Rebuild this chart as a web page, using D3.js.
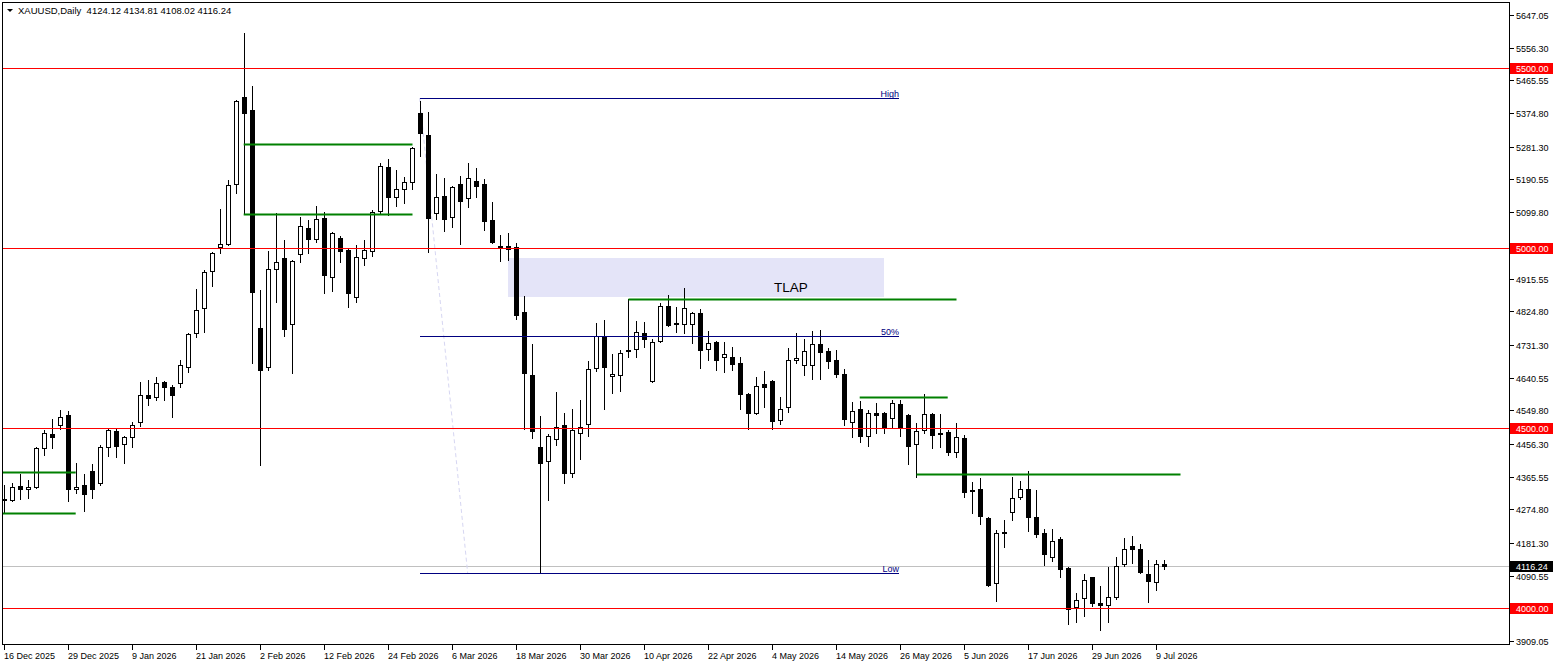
<!DOCTYPE html>
<html lang="en">
<head>
<meta charset="utf-8">
<title>XAUUSD Daily</title>
<script src="https://cdnjs.cloudflare.com/ajax/libs/d3/7.8.5/d3.min.js"></script>
<style>
  body { margin: 0; background: #fff; }
  svg { font-family: "Liberation Sans", Arial, sans-serif; }
  .axis text { font-size: 9px; fill: #000; }
</style>
</head>
<body>
<script>
// daily bars, 16 Dec 2025 .. 10 Jul 2026 (index = bar number)
var opens = [
  4300.0, 4300.0, 4338.9, 4330.6, 4336.1, 4444.4, 4483.3, 4508.3, 4536.1, 4330.6,
  4341.7, 4380.6, 4347.2, 4447.2, 4491.7, 4455.6, 4475.0, 4516.7, 4591.7, 4586.1,
  4627.8, 4613.9, 4625.0, 4669.4, 4763.9, 4833.3, 4936.1, 5002.8, 5011.1, 5177.8,
  5419.4, 5383.3, 4777.8, 4669.4, 4941.7, 4972.2, 4788.9, 4983.3, 5055.6, 5025.0,
  5083.3, 4919.4, 5027.8, 4994.4, 4863.9, 4972.2, 4991.7, 5102.8, 5225.0, 5141.7,
  5163.9, 5183.3, 5375.0, 5313.9, 5097.2, 5144.4, 5086.1, 5177.8, 5138.9, 5186.1,
  5177.8, 5077.8, 5005.6, 5005.6, 5002.8, 4822.2, 4647.2, 4447.2, 4408.3, 4469.4,
  4508.3, 4375.0, 4486.1, 4511.1, 4666.7, 4755.6, 4644.4, 4647.2, 4716.7, 4719.4,
  4763.9, 4630.6, 4741.7, 4838.9, 4791.7, 4788.9, 4788.9, 4819.4, 4719.4, 4738.9,
  4697.2, 4697.2, 4680.6, 4594.4, 4541.7, 4622.2, 4630.6, 4522.2, 4558.3, 4688.9,
  4675.0, 4675.0, 4733.3, 4713.9, 4688.9, 4650.0, 4516.7, 4552.8, 4477.8, 4541.7,
  4541.7, 4527.8, 4566.7, 4536.1, 4455.6, 4494.4, 4538.9, 4486.1, 4488.9, 4433.3,
  4472.2, 4327.8, 4330.6, 4250.0, 4069.4, 4208.3, 4266.7, 4308.3, 4330.6, 4252.8,
  4208.3, 4141.7, 4191.7, 4111.1, 4002.8, 4027.8, 4086.1, 4013.9, 4008.3, 4030.6,
  4122.2, 4172.2, 4163.9, 4094.4, 4072.2, 4124.12
];
var highs = [
  4341.7, 4347.2, 4372.2, 4355.6, 4447.2, 4494.4, 4525.0, 4550.0, 4547.2, 4402.8,
  4372.2, 4400.0, 4452.8, 4497.2, 4500.0, 4477.8, 4516.7, 4627.8, 4633.3, 4641.7,
  4630.6, 4619.4, 4688.9, 4763.9, 4886.1, 4938.9, 4988.9, 5108.3, 5188.9, 5411.1,
  5597.2, 5450.0, 4883.3, 4991.7, 5097.2, 5022.2, 4966.7, 5086.1, 5077.8, 5116.7,
  5100.0, 5044.4, 5033.3, 5000.0, 5008.3, 5022.2, 5105.6, 5236.1, 5247.2, 5216.7,
  5197.2, 5280.6, 5408.3, 5377.8, 5205.6, 5194.4, 5172.2, 5200.0, 5236.1, 5222.2,
  5191.7, 5127.8, 5036.1, 5041.7, 5013.9, 4866.7, 4733.3, 4533.3, 4483.3, 4600.0,
  4541.7, 4552.8, 4577.8, 4686.1, 4791.7, 4800.0, 4705.6, 4716.7, 4858.3, 4797.2,
  4794.4, 4747.2, 4847.2, 4869.4, 4836.1, 4888.9, 4822.2, 4830.6, 4769.4, 4741.7,
  4738.9, 4725.0, 4697.2, 4597.2, 4641.7, 4658.3, 4633.3, 4586.1, 4722.2, 4763.9,
  4747.2, 4769.4, 4772.2, 4722.2, 4716.7, 4663.9, 4572.2, 4575.0, 4550.0, 4569.4,
  4544.4, 4577.8, 4577.8, 4538.9, 4513.9, 4594.4, 4541.7, 4538.9, 4494.4, 4513.9,
  4480.6, 4350.0, 4361.1, 4252.8, 4216.7, 4244.4, 4363.9, 4352.8, 4380.6, 4327.8,
  4219.4, 4219.4, 4197.2, 4113.9, 4041.7, 4094.4, 4088.0, 4061.1, 4113.9, 4141.7,
  4194.4, 4200.0, 4177.8, 4133.3, 4133.3, 4134.81
];
var lows = [
  4266.7, 4298.0, 4302.8, 4305.6, 4333.0, 4425.0, 4444.4, 4497.2, 4297.2, 4319.4,
  4269.4, 4305.6, 4341.7, 4422.2, 4419.4, 4402.8, 4447.2, 4505.6, 4563.9, 4577.8,
  4577.8, 4530.6, 4613.9, 4655.6, 4752.8, 4766.7, 4894.4, 4986.1, 5008.0, 5152.8,
  5097.2, 4680.6, 4397.2, 4661.1, 4850.0, 4755.6, 4652.8, 4961.1, 4986.1, 5016.7,
  4875.0, 4880.6, 4961.1, 4836.1, 4850.0, 4952.8, 4977.8, 5097.2, 5091.7, 5116.7,
  5125.0, 5163.9, 5255.6, 4988.9, 5080.6, 5047.2, 5058.3, 5011.1, 5113.9, 5141.7,
  5050.0, 5013.9, 4963.9, 4966.7, 4802.8, 4497.2, 4472.2, 4097.2, 4300.0, 4452.8,
  4347.2, 4363.9, 4413.9, 4477.8, 4658.3, 4552.8, 4597.2, 4602.8, 4697.2, 4697.2,
  4725.0, 4628.0, 4739.0, 4783.3, 4766.7, 4763.9, 4736.1, 4666.7, 4688.9, 4661.1,
  4655.6, 4661.1, 4552.8, 4497.2, 4538.9, 4558.3, 4497.2, 4511.1, 4544.4, 4680.6,
  4647.2, 4636.1, 4636.1, 4666.7, 4641.7, 4508.3, 4475.0, 4461.1, 4450.0, 4486.1,
  4486.1, 4502.8, 4477.8, 4400.0, 4363.9, 4486.1, 4444.4, 4447.2, 4425.0, 4419.4,
  4308.3, 4263.9, 4233.3, 4061.1, 4019.4, 4169.4, 4244.4, 4302.8, 4213.9, 4197.2,
  4119.4, 4130.6, 4086.1, 3955.6, 3961.1, 3977.8, 4005.6, 3938.9, 3961.1, 4025.0,
  4116.7, 4125.0, 4097.2, 4016.7, 4050.0, 4108.02
];
var closes = [
  4302.8, 4336.1, 4330.6, 4336.1, 4444.4, 4486.1, 4475.0, 4530.6, 4330.6, 4336.1,
  4316.7, 4330.6, 4447.2, 4494.4, 4450.0, 4475.0, 4508.3, 4591.7, 4583.3, 4625.0,
  4613.9, 4591.7, 4675.0, 4761.1, 4827.8, 4933.3, 4986.1, 5011.1, 5175.0, 5408.3,
  5375.0, 4877.8, 4661.1, 4941.7, 4961.1, 4775.0, 4963.9, 5061.1, 5025.0, 5080.6,
  4925.0, 5041.7, 4991.7, 4875.0, 4975.0, 4994.4, 5100.0, 5227.8, 5141.7, 5163.9,
  5183.3, 5277.8, 5319.4, 5083.3, 5141.7, 5080.6, 5169.4, 5130.6, 5194.4, 5172.2,
  5075.0, 5016.7, 5000.0, 4997.2, 4813.9, 4652.8, 4491.7, 4402.8, 4477.8, 4502.8,
  4375.0, 4494.4, 4502.8, 4663.9, 4755.6, 4669.4, 4650.0, 4708.3, 4713.9, 4766.7,
  4747.2, 4738.9, 4838.9, 4786.1, 4788.9, 4833.3, 4819.4, 4716.7, 4736.1, 4688.9,
  4705.6, 4677.8, 4594.4, 4541.7, 4616.7, 4613.9, 4519.4, 4552.8, 4688.9, 4694.4,
  4713.9, 4733.3, 4711.1, 4686.1, 4650.0, 4525.0, 4547.2, 4477.8, 4541.7, 4536.1,
  4502.8, 4569.4, 4502.8, 4450.0, 4491.7, 4538.9, 4480.6, 4483.3, 4433.3, 4475.0,
  4322.2, 4325.0, 4255.6, 4063.9, 4208.3, 4211.1, 4305.6, 4330.6, 4252.8, 4205.6,
  4150.0, 4186.1, 4108.3, 3997.2, 4022.2, 4077.8, 4013.9, 4008.3, 4030.6, 4116.7,
  4163.9, 4163.9, 4100.0, 4075.0, 4122.2, 4116.24
];

// one label every 8 bars, starting at bar 0
var dateLabels = ["16 Dec 2025", "29 Dec 2025", "9 Jan 2026", "21 Jan 2026", "2 Feb 2026",
  "12 Feb 2026", "24 Feb 2026", "6 Mar 2026", "18 Mar 2026", "30 Mar 2026", "10 Apr 2026",
  "22 Apr 2026", "4 May 2026", "14 May 2026", "26 May 2026", "5 Jun 2026", "17 Jun 2026",
  "29 Jun 2026", "9 Jul 2026"];
var priceTicks = [5647.05, 5556.30, 5465.55, 5374.80, 5281.30, 5190.55, 5099.80, 4915.55,
  4824.80, 4731.30, 4640.55, 4549.80, 4456.30, 4365.55, 4274.80, 4181.30, 4090.55, 3909.05];

// chart objects (bar index, price)
var redLevels = [5500, 5000, 4500, 4000];
var greenLines = [
  [29.9, 51, 5290.3], [29.9, 51, 5094.4], [-0.3, 8.9, 4377.8], [-0.3, 8.9, 4263.9],
  [78, 119, 4858.3], [106.9, 117.9, 4586.1], [114, 147, 4372.2]
];
var zone = {from: 62.9, to: 109.9, top: 4972.2, bottom: 4863.9, label: "TLAP", labelAt: 98.3};
var fib = {from: 51.9, to: 111.75, high: 5416.7, low: 4097.2, trendEnd: 57.9};
var lastPrice = 4116.24;

var W = 1556, H = 666;
var pLeft = 3, pRight = 1510, pTop = 3, pBottom = 645;

var x = d3.scaleLinear().domain([0, 145]).range([4.5, 1164.5]);
var y = d3.scaleLinear().domain([4000, 5500]).range([608.3, 68]);
function py(v) { return Math.round(y(v)) + 0.5; }

var svg = d3.select("body").append("svg")
    .attr("width", W)
    .attr("height", H);

svg.append("defs").append("clipPath").attr("id", "plot")
  .append("rect").attr("x", pLeft).attr("y", pTop)
  .attr("width", pRight - pLeft).attr("height", pBottom - pTop);

var g = svg.append("g").attr("clip-path", "url(#plot)");

// zone
g.append("rect")
    .attr("x", Math.round(x(zone.from)))
    .attr("y", Math.round(y(zone.top)))
    .attr("width", Math.round(x(zone.to)) - Math.round(x(zone.from)))
    .attr("height", Math.round(y(zone.bottom)) - Math.round(y(zone.top)))
    .attr("fill", "#e4e4f8");

// current price line
g.append("line")
    .attr("x1", pLeft).attr("x2", pRight)
    .attr("y1", py(lastPrice)).attr("y2", py(lastPrice))
    .attr("stroke", "#c0c0c0");

// fibo trend (dashed)
g.append("line")
    .attr("x1", x(fib.from)).attr("y1", y(fib.high))
    .attr("x2", x(fib.trendEnd)).attr("y2", y(fib.low))
    .attr("stroke", "#d6d6f2")
    .attr("stroke-dasharray", "4,3");

// candles
var bars = d3.range(opens.length);
var cg = g.append("g");
cg.selectAll("line.wick")
  .data(bars)
  .enter().append("line")
    .attr("class", "wick")
    .attr("x1", function(i) { return x(i); })
    .attr("x2", function(i) { return x(i); })
    .attr("y1", function(i) { return Math.round(y(highs[i])); })
    .attr("y2", function(i) { return Math.round(y(lows[i])) + 1; })
    .attr("stroke", "#000");

cg.selectAll("rect.body")
  .data(bars)
  .enter().append("rect")
    .attr("class", "body")
    .attr("x", function(i) { return x(i) - 2; })
    .attr("y", function(i) { return Math.round(y(Math.max(opens[i], closes[i]))) + 0.5; })
    .attr("width", 4)
    .attr("height", function(i) {
      var h = Math.round(y(Math.min(opens[i], closes[i]))) - Math.round(y(Math.max(opens[i], closes[i])));
      return Math.max(h, 0.01);
    })
    .attr("fill", function(i) { return closes[i] >= opens[i] ? "#fff" : "#000"; })
    .attr("stroke", "#000");

// red levels
g.selectAll("line.lvl")
  .data(redLevels)
  .enter().append("line")
    .attr("x1", pLeft).attr("x2", pRight)
    .attr("y1", py).attr("y2", py)
    .attr("stroke", "#ff0000");

// fibo levels
var fibLevels = [
  {v: fib.high, t: "High"},
  {v: (fib.high + fib.low) / 2, t: "50%"},
  {v: fib.low, t: "Low"}
];
g.selectAll("line.fib")
  .data(fibLevels)
  .enter().append("line")
    .attr("x1", Math.round(x(fib.from)))
    .attr("x2", Math.round(x(fib.to)))
    .attr("y1", function(d) { return py(d.v); })
    .attr("y2", function(d) { return py(d.v); })
    .attr("stroke", "#000080");
g.selectAll("text.fib")
  .data(fibLevels)
  .enter().append("text")
    .attr("x", Math.round(x(fib.to)))
    .attr("y", function(d) { return py(d.v) - 2; })
    .attr("text-anchor", "end")
    .attr("font-size", "9px")
    .attr("fill", "#000080")
    .text(function(d) { return d.t; });

// green lines
g.selectAll("line.grn")
  .data(greenLines)
  .enter().append("line")
    .attr("x1", function(d) { return x(d[0]); })
    .attr("x2", function(d) { return x(d[1]); })
    .attr("y1", function(d) { return Math.round(y(d[2])) + 0.5; })
    .attr("y2", function(d) { return Math.round(y(d[2])) + 0.5; })
    .attr("stroke", "#008000")
    .attr("stroke-width", 2);

// zone label
svg.append("text")
    .attr("x", x(zone.labelAt))
    .attr("y", Math.round(y(zone.bottom)) - 5)
    .attr("text-anchor", "middle")
    .attr("font-size", "13.5px")
    .attr("fill", "#000")
    .text(zone.label);

// frame
svg.append("rect")
    .attr("x", pLeft - 0.5).attr("y", pTop - 0.5)
    .attr("width", pRight - pLeft).attr("height", pBottom - pTop)
    .attr("fill", "none")
    .attr("stroke", "#000");

// price axis
var ya = svg.append("g").attr("class", "axis");
ya.selectAll("line")
  .data(priceTicks)
  .enter().append("line")
    .attr("x1", pRight).attr("x2", pRight + 4)
    .attr("y1", py).attr("y2", py)
    .attr("stroke", "#000");
ya.selectAll("text")
  .data(priceTicks)
  .enter().append("text")
    .attr("x", pRight + 6)
    .attr("y", function(d) { return py(d); })
    .attr("dy", "0.35em")
    .text(function(d) { return d.toFixed(2); });

var boxes = redLevels.map(function(v) { return {v: v, c: "#ff0000"}; })
  .concat([{v: lastPrice, c: "#000"}]);
var bx = ya.selectAll("g.box")
  .data(boxes)
  .enter().append("g");
bx.append("rect")
    .attr("x", pRight)
    .attr("y", function(d) { return Math.round(y(d.v)) - 5; })
    .attr("width", 43)
    .attr("height", 11)
    .attr("fill", function(d) { return d.c; });
bx.append("text")
    .attr("x", pRight + 6)
    .attr("y", function(d) { return py(d.v); })
    .attr("dy", "0.35em")
    .style("fill", "#fff")
    .text(function(d) { return d.v.toFixed(2); });

// time axis
var xa = svg.append("g").attr("class", "axis");
var tickBars = dateLabels.map(function(d, k) { return k * 8; });
xa.selectAll("line")
  .data(tickBars)
  .enter().append("line")
    .attr("x1", function(i) { return x(i); })
    .attr("x2", function(i) { return x(i); })
    .attr("y1", pBottom).attr("y2", pBottom + 5)
    .attr("stroke", "#000");
xa.selectAll("text")
  .data(tickBars)
  .enter().append("text")
    .attr("x", function(i) { return x(i) - 0.5; })
    .attr("y", pBottom + 14)
    .text(function(i, k) { return dateLabels[k]; });

// title
svg.append("path")
    .attr("d", "M7,9 L13,9 L10,12 Z")
    .attr("fill", "#000");
svg.append("text")
    .attr("x", 18)
    .attr("y", 13.5)
    .attr("font-size", "9.5px")
    .attr("fill", "#000")
    .attr("xml:space", "preserve")
    .text("XAUUSD,Daily  " + [opens[145], highs[145], lows[145], closes[145]].map(function(v) { return v.toFixed(2); }).join(" "));
</script>
</body>
</html>
